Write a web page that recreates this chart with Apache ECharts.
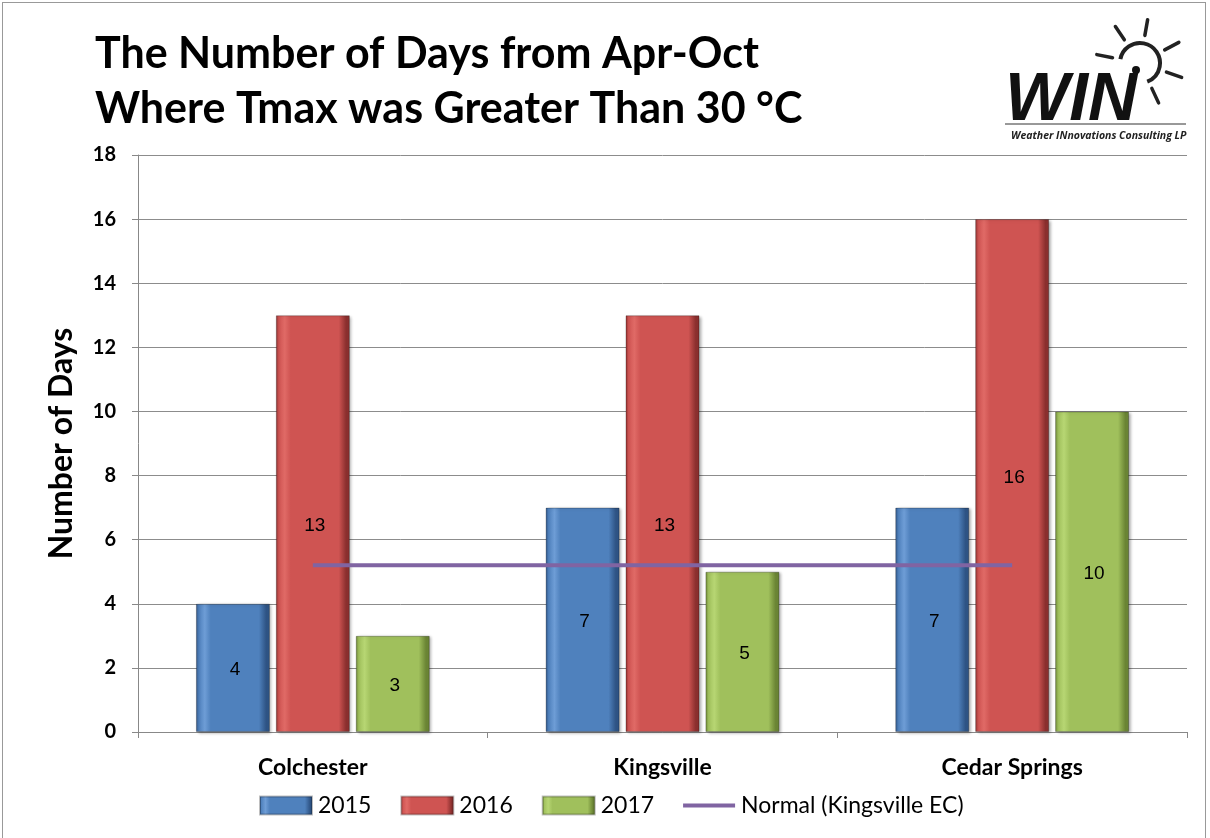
<!DOCTYPE html>
<html><head><meta charset="utf-8">
<script src="https://cdn.jsdelivr.net/npm/echarts@6/dist/echarts.min.js"></script>
<style>
html,body{margin:0;padding:0;background:#fff;}
#frame{position:absolute;left:2px;top:2px;width:1204px;height:840px;border:1px solid #999;box-sizing:border-box;}
#c{position:absolute;left:0;top:0;width:1210px;height:838px;}
</style></head><body>
<div id="frame"></div>
<div id="c"></div>
<script>
const categories = ['Colchester', 'Kingsville', 'Cedar Springs'];
const v2015 = [4, 7, 7];
const v2016 = [13, 13, 16];
const v2017 = [3, 5, 10];
const normal = [5.2, 5.2, 5.2];
const yTicks = [0, 2, 4, 6, 8, 10, 12, 14, 16, 18];

const chart = echarts.init(document.getElementById('c'), null, {renderer: 'canvas'});
const FONT = 'Lato, "Open Sans", sans-serif';

function bevel(base, light, dark) {
  return new echarts.graphic.LinearGradient(0, 0, 1, 0, [
    {offset: 0, color: dark},
    {offset: 0.04, color: base},
    {offset: 0.12, color: light},
    {offset: 0.2, color: base},
    {offset: 0.85, color: base},
    {offset: 0.95, color: dark},
    {offset: 1, color: dark}
  ]);
}
const styles = {
  '2015': bevel('#4F81BD', '#6E9DD6', '#2E5384'),
  '2016': bevel('#CF5452', '#E06A66', '#8A2F2E'),
  '2017': bevel('#A0C05C', '#B7D673', '#6A8434')
};
function barSeries(name, data) {
  return {
    name: name, type: 'bar', data: data, barWidth: 74, barGap: '8%',
    itemStyle: {color: styles[name], borderColor: 'rgba(0,0,0,0.25)', borderWidth: 1,
      shadowColor: 'rgba(0,0,0,0.35)', shadowBlur: 3, shadowOffsetX: 2, shadowOffsetY: 1},
    label: {show: true, position: 'inside', color: '#000', fontSize: 19, fontFamily: 'Liberation Sans, Arial, sans-serif', offset: [2, 2]}
  };
}

const rays = [];
const cx = 1140, cy = 63;
[-124, -80, -28, 19, 65, -169].forEach(function (deg) {
  const ang = deg * Math.PI / 180;
  rays.push({type: 'line', shape: {x1: cx + 28 * Math.cos(ang), y1: cy + 28 * Math.sin(ang), x2: cx + 44 * Math.cos(ang), y2: cy + 44 * Math.sin(ang)},
    style: {stroke: '#222', lineWidth: 3.5, lineCap: 'round'}});
});

chart.setOption({
  animation: false,
  backgroundColor: 'transparent',
  title: {
    text: 'The Number of Days from Apr-Oct\nWhere Tmax was Greater Than 30 °C',
    left: 95, top: 27, padding: 0,
    textStyle: {fontFamily: FONT, fontWeight: 'bold', fontSize: 43, lineHeight: 55, color: '#000'}
  },
  legend: {
    top: 794, left: 259, padding: 0,
    itemWidth: 52, itemHeight: 18, itemGap: 29,
    textStyle: {fontFamily: FONT, fontSize: 23, color: '#000', padding: [0, 0, 0, 1]},
    data: [{name: '2015', icon: 'rect'}, {name: '2016', icon: 'rect'}, {name: '2017', icon: 'rect'},
      {name: 'Normal (Kingsville EC)', icon: 'path://M0,0H50V4H0Z'}]
  },
  grid: {left: 138, right: 23, top: 155, bottom: 106, containLabel: false},
  xAxis: {
    type: 'category', data: categories,
    axisLine: {lineStyle: {color: '#888', width: 1}},
    axisTick: {show: true, length: 6, lineStyle: {color: '#888'}},
    axisLabel: {fontFamily: FONT, fontWeight: 'bold', fontSize: 23, color: '#000', margin: 24}
  },
  yAxis: {
    type: 'value', min: 0, max: 18, interval: 2,
    name: 'Number of Days', nameLocation: 'middle', nameGap: 60, nameRotate: 90,
    nameTextStyle: {fontFamily: FONT, fontWeight: 'bold', fontSize: 32, color: '#000'},
    axisLine: {show: true, lineStyle: {color: '#888'}},
    axisTick: {show: true, length: 6, lineStyle: {color: '#888'}},
    axisLabel: {fontFamily: FONT, fontWeight: 'bold', fontSize: 20, color: '#000', margin: 22,
      formatter: function (v) { return yTicks.indexOf(v) >= 0 ? String(v) : ''; }},
    splitLine: {lineStyle: {color: '#8c8c8c', width: 1}}
  },
  series: [
    barSeries('2015', v2015),
    barSeries('2016', v2016),
    barSeries('2017', v2017),
    {name: 'Normal (Kingsville EC)', type: 'line', data: normal, symbol: 'none', z: 5,
      lineStyle: {color: '#8064A2', width: 4}, itemStyle: {color: '#8064A2'}}
  ],
  graphic: [
    {type: 'group', children: [
      {type: 'arc', shape: {cx: cx, cy: cy, r: 20, startAngle: -2.95, endAngle: 1.2}, style: {stroke: '#222', lineWidth: 4, fill: null}},
      {type: 'circle', shape: {cx: 1136, cy: 70, r: 4}, style: {fill: '#111'}},
      {type: 'text', left: 1005, top: 67, style: {text: 'WIN', font: 'italic 900 68px "Liberation Sans", Arial, sans-serif', fill: '#111'}},
      {type: 'line', shape: {x1: 1005, y1: 124, x2: 1186, y2: 124}, style: {stroke: '#333', lineWidth: 1}},
      {type: 'text', left: 1011, top: 131, style: {text: 'Weather INnovations Consulting LP', font: 'italic bold 10.5px "Open Sans", sans-serif', fill: '#222'}}
    ].concat(rays)}
  ]
});
</script>
</body></html>
